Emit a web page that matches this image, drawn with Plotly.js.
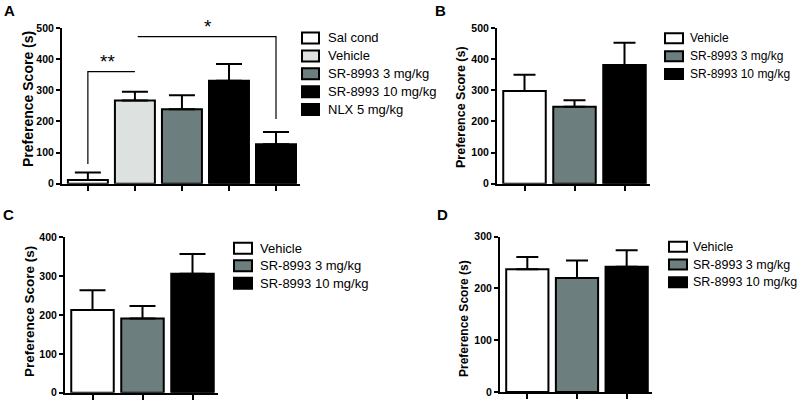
<!DOCTYPE html>
<html>
<head>
<meta charset="utf-8">
<script src="https://cdn.plot.ly/plotly-3.0.1.min.js"></script>
<style>html,body{margin:0;padding:0;background:#fff;}#chart{width:800px;height:400px;}</style>
</head>
<body>
<div id="chart"></div>
<script>
// ---- Data ----
const catsA = ['Sal cond', 'Vehicle', 'SR-8993 3 mg/kg', 'SR-8993 10 mg/kg', 'NLX 5 mg/kg'];
const meanA = [12, 267, 239, 331, 127];
const semA  = [24, 28, 45, 53, 39];

const catsB = ['Vehicle', 'SR-8993 3 mg/kg', 'SR-8993 10 mg/kg'];
const meanB = [298, 247, 381];
const semB  = [52, 21, 72];

const catsC = ['Vehicle', 'SR-8993 3 mg/kg', 'SR-8993 10 mg/kg'];
const meanC = [213, 191, 306];
const semC  = [51, 32, 51];

const catsD = ['Vehicle', 'SR-8993 3 mg/kg', 'SR-8993 10 mg/kg'];
const meanD = [237, 220, 242];
const semD  = [24, 34, 32];

const yTicksA = [0, 100, 200, 300, 400, 500];
const yTicksC = [0, 100, 200, 300, 400];
const yTicksD = [0, 100, 200, 300];

// ---- Styling ----
const fillOf = {
  'Sal cond': '#ffffff',
  'Vehicle': '#dde2e0',
  'SR-8993 3 mg/kg': '#6c7e7d',
  'SR-8993 10 mg/kg': '#000000',
  'NLX 5 mg/kg': '#000000'
};
const FONT = 'Liberation Sans, Arial, Helvetica, sans-serif';
const W = 800, H = 400;

const traces = [];
const shapes = [];
const annotations = [];

function colorFor(c, vehWhite) {
  return (vehWhite && c === 'Vehicle') ? '#ffffff' : fillOf[c];
}

function addPanel(cats, means, sems, xa, ya, vehWhite, capW) {
  cats.forEach((c, i) => {
    traces.push({
      type: 'bar',
      x: [c], y: [means[i]],
      name: c,
      xaxis: xa, yaxis: ya,
      showlegend: false,
      marker: {color: colorFor(c, vehWhite), line: {color: '#000', width: 2}},
      error_y: {type: 'data', symmetric: false, array: [sems[i]], arrayminus: [0],
                color: '#000', thickness: 2, width: capW},
      hoverinfo: 'skip'
    });
  });
}
addPanel(catsA, meanA, semA, 'x', 'y', false, 13);
addPanel(catsB, meanB, semB, 'x2', 'y2', true, 11);
addPanel(catsC, meanC, semC, 'x3', 'y3', true, 13);
addPanel(catsD, meanD, semD, 'x4', 'y4', true, 11);

// legend drawn as keys + text (pixel positions)
function addLegend(cats, vehWhite, boxX0, boxX1, y0, dy, boxH, textX, size) {
  cats.forEach((c, i) => {
    const yc = y0 + dy * i;
    shapes.push({
      type: 'rect', xref: 'paper', yref: 'paper',
      x0: boxX0 / W, x1: boxX1 / W, y0: 1 - (yc + boxH / 2) / H, y1: 1 - (yc - boxH / 2) / H,
      fillcolor: colorFor(c, vehWhite), line: {color: '#000', width: 2}
    });
    annotations.push({
      text: c, xref: 'paper', yref: 'paper', x: textX / W, y: 1 - yc / H,
      xanchor: 'left', yanchor: 'middle', showarrow: false, borderpad: 0,
      font: {family: FONT, size: size, color: '#000'}
    });
  });
}
addLegend(catsA, false, 302, 319, 38, 17.9, 11, 327, 13);
addLegend(catsB, true, 665, 683, 38.3, 17.9, 10, 689, 12);
addLegend(catsC, true, 234, 252, 248.3, 17.5, 11, 259, 13);
addLegend(catsD, true, 669, 687, 246.7, 17.8, 10, 692, 12.5);

function xAx(domain, anchor, n) {
  return {
    domain: domain, anchor: anchor, type: 'category',
    range: [-0.55, n - 0.49],
    showline: true, linecolor: '#000', linewidth: 2,
    ticks: 'outside', ticklen: 5, tickwidth: 2, tickcolor: '#000',
    showticklabels: false, showgrid: false, zeroline: false, fixedrange: true
  };
}
function yAx(domain, anchor, max, vals) {
  return {
    domain: domain, anchor: anchor, range: [0, max],
    tickvals: vals, ticktext: vals.map(String),
    showline: true, linecolor: '#000', linewidth: 2,
    ticks: 'outside', ticklen: 4, tickwidth: 2, tickcolor: '#000',
    tickfont: {family: FONT, size: 10.5, color: '#000', weight: 'bold'},
    showgrid: false, zeroline: false, fixedrange: true
  };
}

function yTitle(x, y, size) {
  annotations.push({
    text: '<b>Preference Score (s)</b>', xref: 'paper', yref: 'paper',
    x: x / W, y: 1 - y / H, xanchor: 'center', yanchor: 'middle', textangle: -90, showarrow: false,
    font: {family: FONT, size: size, color: '#000'}
  });
}
function letter(t, x, y) {
  annotations.push({
    text: '<b>' + t + '</b>', xref: 'paper', yref: 'paper', x: x / W, y: 1 - y / H,
    xanchor: 'left', yanchor: 'top', showarrow: false,
    font: {family: FONT, size: 15, color: '#000'}
  });
}
letter('A', 2, 0);
letter('B', 433, 0);
letter('C', 1, 204);
letter('D', 435, 204);
yTitle(28, 99, 14);
yTitle(461, 107, 12.5);
yTitle(29, 312, 13.5);
yTitle(464, 318, 12);

// significance brackets
shapes.push({type: 'path', xref: 'x', yref: 'y', path: 'M 0 63 L 0 360 L 1 360',
             line: {color: '#000', width: 1.2}});
shapes.push({type: 'path', xref: 'x', yref: 'y', path: 'M 1.06 472 L 4 472 L 4 208',
             line: {color: '#000', width: 1.2}});
annotations.push({text: '**', xref: 'x', yref: 'y', x: 0.42, y: 352, yanchor: 'bottom', showarrow: false,
                  font: {family: FONT, size: 19, color: '#000'}});
annotations.push({text: '*', xref: 'x', yref: 'y', x: 2.55, y: 464, yanchor: 'bottom', showarrow: false,
                  font: {family: FONT, size: 19, color: '#000'}});

const layout = {
  width: W, height: H,
  margin: {l: 0, r: 0, t: 0, b: 0},
  paper_bgcolor: '#fff', plot_bgcolor: 'rgba(0,0,0,0)',
  barmode: 'overlay', bargap: 0.15,
  showlegend: false,
  font: {family: FONT, color: '#000'},
  xaxis:  xAx([62/W, 300/W], 'y', 5),
  yaxis:  yAx([(H-183.7)/H, (H-28)/H], 'x', 500, yTicksA),
  xaxis2: xAx([497/W, 650/W], 'y2', 3),
  yaxis2: yAx([(H-183.7)/H, (H-28)/H], 'x2', 500, yTicksA),
  xaxis3: xAx([65/W, 218/W], 'y3', 3),
  yaxis3: yAx([(H-392.7)/H, (H-237.3)/H], 'x3', 400, yTicksC),
  xaxis4: xAx([500/W, 652/W], 'y4', 3),
  yaxis4: yAx([(H-392)/H, (H-236.7)/H], 'x4', 300, yTicksD),
  shapes: shapes,
  annotations: annotations
};

Plotly.newPlot('chart', traces, layout, {displayModeBar: false, staticPlot: true});
</script>
</body>
</html>
